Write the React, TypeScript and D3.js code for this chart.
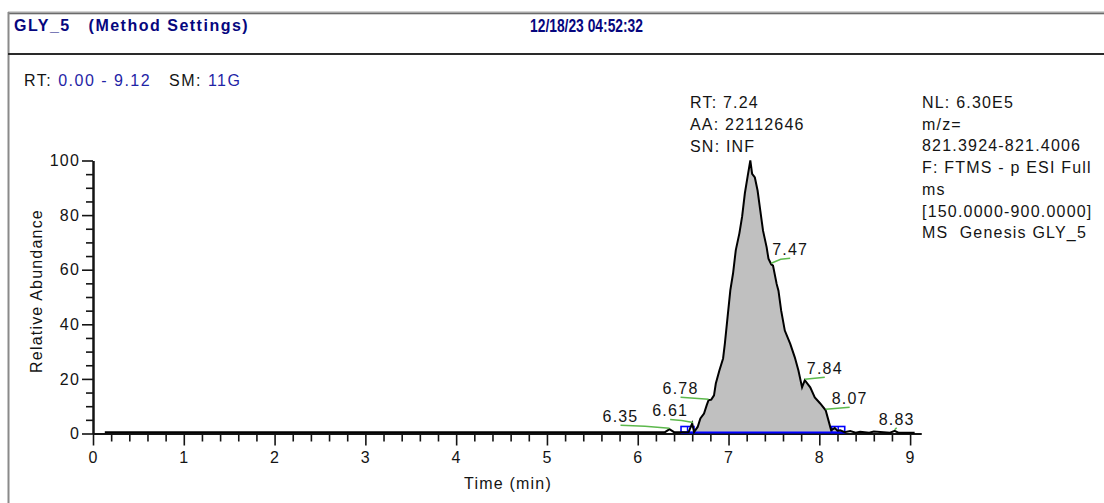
import React, { useEffect, useRef } from "react";
import * as d3 from "d3";

// chromatogram trace (time in min, relative abundance in %)
const times = [
  0.13, 6.3, 6.35, 6.4, 6.56, 6.6, 6.62, 6.66, 6.69, 6.73, 6.76, 6.78, 6.81, 6.84,
  6.86, 6.9, 6.94, 6.96, 6.99, 7.02, 7.05, 7.08, 7.12, 7.15, 7.18, 7.21, 7.24, 7.26,
  7.29, 7.32, 7.35, 7.38, 7.42, 7.44, 7.47, 7.49, 7.53, 7.55, 7.58, 7.62, 7.68, 7.73,
  7.77, 7.81, 7.84, 7.9, 7.95, 8.01, 8.07, 8.1, 8.13, 8.17, 8.2, 8.23, 8.28, 8.34,
  8.4, 8.45, 8.55, 8.6, 8.78, 8.83, 8.87, 9.05,
];
const abundance = [
  0.5, 0.5, 1.6, 0.5, 0.5, 3.7, 0.5, 2.4, 5.5, 7.3, 10.4, 12.2, 12.4, 14.0,
  18.3, 23.2, 27.5, 33.0, 42.8, 52.5, 58.7, 67.2, 73.4, 79.5, 88.0, 94.1, 100, 95.1,
  93.8, 89.0, 81.6, 74.3, 68.2, 64.0, 62.0, 61.5, 54.8, 52.3, 45.0, 37.7, 32.8, 27.9,
  23.1, 16.9, 19.5, 16.9, 13.2, 11.0, 8.5, 4.9, 1.2, 2.0, 1.0, 1.2, 0.5, 0.9,
  0.3, 0.6, 0.3, 0.7, 0.3, 1.0, 0.3, 0.3,
];

// labelled apexes
const labelTimes = [6.35, 6.61, 6.78, 7.47, 7.84, 8.07, 8.83];
const labelValues = [1.6, 3.7, 12.2, 62.0, 19.5, 8.5, 1.0];

// integration window of the main peak
const peakStart = 6.62;
const peakEnd = 8.28;

const timeRange = [0, 9.12];
const xTicks = [0, 1, 2, 3, 4, 5, 6, 7, 8, 9];
const yTicks = [0, 20, 40, 60, 80, 100];

const headerTitle = "GLY_5   (Method Settings)";
const headerDate = "12/18/23 04:52:32";
const rangeText = ["RT: ", "0.00 - 9.12", "   SM: ", "11G"];
const peakInfo = ["RT: 7.24", "AA: 22112646", "SN: INF"];
const scanInfo = [
  "NL: 6.30E5",
  "m/z=",
  "821.3924-821.4006",
  "F: FTMS - p ESI Full",
  "ms",
  "[150.0000-900.0000]",
  "MS  Genesis GLY_5",
];

const FONT = "'Liberation Sans', Arial, sans-serif";
const INK = "#141414";
const BLUE = "#1f24a6";

// where each apex label sits relative to its point [dx, dy]
const LABEL_OFFSETS = [
  [-49, -6], [-23, -6], [-28, -5], [19, -8], [20, -5], [24, -5], [2, -5],
];

export default function App() {
  const svgRef = useRef<SVGSVGElement>(null);

  useEffect(() => {
    const svg = d3.select(svgRef.current);
    svg.selectAll("*").remove();

    const x = d3.scaleLinear().domain(timeRange).range([93, 921]);
    const y = d3.scaleLinear().domain([0, 100]).range([433.5, 160.5]);
    const pts = times.map((t, i) => [t, abundance[i]] as [number, number]);

    // window frame
    svg.append("rect").attr("width", 1104).attr("height", 503).attr("fill", "#fff");
    svg.append("line").attr("x1", 8).attr("x2", 1104).attr("y1", 13).attr("y2", 13)
      .attr("stroke", "#a8a8a8").attr("stroke-width", 3);
    svg.append("line").attr("x1", 8).attr("x2", 1104).attr("y1", 13.5).attr("y2", 13.5)
      .attr("stroke", "#6a6a6a").attr("stroke-width", 1);
    svg.append("line").attr("x1", 8.5).attr("x2", 8.5).attr("y1", 12).attr("y2", 503)
      .attr("stroke", "#8a8a8a").attr("stroke-width", 2);
    svg.append("line").attr("x1", 8).attr("x2", 1104).attr("y1", 54).attr("y2", 54)
      .attr("stroke", "#2a2a2a").attr("stroke-width", 2);

    // header
    svg.append("text").attr("x", 14).attr("y", 31).attr("xml:space", "preserve")
      .style("white-space", "pre")
      .attr("font-family", FONT).attr("font-size", 16).attr("font-weight", "bold")
      .attr("letter-spacing", 1.5).attr("fill", "#06067e").text(headerTitle);
    svg.append("text").attr("x", 530).attr("y", 32)
      .attr("font-family", FONT).attr("font-size", 17.5).attr("font-weight", "bold")
      .attr("textLength", 113).attr("lengthAdjust", "spacingAndGlyphs")
      .attr("fill", "#06067e").text(headerDate);

    const txt = (sx: number, sy: number) =>
      svg.append("text").attr("x", sx).attr("y", sy)
        .attr("font-family", FONT).attr("font-size", 16)
        .attr("letter-spacing", 1.2).attr("fill", INK)
        .style("white-space", "pre");

    const rt = txt(24, 86).attr("letter-spacing", 1.5);
    rangeText.forEach((s, i) =>
      rt.append("tspan").attr("fill", i % 2 ? BLUE : INK).text(s));

    peakInfo.forEach((s, i) => txt(690, 108 + i * 21.8).text(s));
    scanInfo.forEach((s, i) => txt(922, 108 + i * 21.7).text(s));

    // integrated area
    const inPeak = pts.filter(d => d[0] >= peakStart && d[0] <= peakEnd);
    svg.append("path").datum(inPeak)
      .attr("fill", "#c0c0c0")
      .attr("d", d3.area<[number, number]>()
        .x(d => x(d[0])).y0(y(0)).y1(d => y(d[1]))(inPeak) as string);

    // axes
    const xMinor = d3.range(0, 9.12, 0.2).filter(v => Math.abs(v - Math.round(v)) > 0.01);
    const yMinor = d3.range(0, 101, 5).filter(v => v % 20 !== 0);

    const styleAxis = (g: any) => {
      g.select(".domain").attr("stroke", INK).attr("stroke-width", 2);
      g.selectAll(".tick line").attr("stroke", INK).attr("stroke-width", 1.6);
      g.selectAll("text").attr("font-family", FONT).attr("font-size", 16)
        .attr("letter-spacing", 1.2).attr("fill", INK);
    };

    svg.append("g").attr("transform", `translate(0,${y(0)})`)
      .call(d3.axisBottom(x).tickValues(xMinor).tickSize(8).tickSizeOuter(0).tickFormat(() => ""))
      .call(styleAxis);
    svg.append("g").attr("transform", `translate(0,${y(0)})`)
      .call(d3.axisBottom(x).tickValues(xTicks).tickSize(12).tickSizeOuter(0).tickPadding(6)
        .tickFormat(d3.format("d")))
      .call(styleAxis);
    svg.append("g").attr("transform", `translate(${x(0)},0)`)
      .call(d3.axisLeft(y).tickValues(yMinor).tickSize(7).tickSizeOuter(0).tickFormat(() => ""))
      .call(styleAxis);
    svg.append("g").attr("transform", `translate(${x(0)},0)`)
      .call(d3.axisLeft(y).tickValues(yTicks).tickSize(11).tickSizeOuter(0).tickPadding(2)
        .tickFormat(d3.format("d")))
      .call(styleAxis);

    svg.append("text").attr("x", 508).attr("y", 489).attr("text-anchor", "middle")
      .attr("font-family", FONT).attr("font-size", 16).attr("letter-spacing", 1.2)
      .attr("fill", INK).text("Time (min)");
    svg.append("text").attr("transform", "translate(42,291) rotate(-90)")
      .attr("text-anchor", "middle")
      .attr("font-family", FONT).attr("font-size", 16).attr("letter-spacing", 1.2)
      .attr("fill", INK).text("Relative Abundance");

    // baseline of the integration + end markers
    const by = y(0) - 1;
    svg.append("line").attr("x1", x(peakStart) - 13).attr("x2", x(peakEnd))
      .attr("y1", by).attr("y2", by).attr("stroke", "#0000ff").attr("stroke-width", 2);
    [peakStart, peakEnd].forEach(t => {
      const bx = x(t) - 13;
      svg.append("rect").attr("x", bx).attr("y", by - 6).attr("width", 13).attr("height", 6)
        .attr("fill", "none").attr("stroke", "#0000ff").attr("stroke-width", 1.6);
      svg.append("line").attr("x1", bx + 6.5).attr("x2", bx + 6.5).attr("y1", by - 6).attr("y2", by)
        .attr("stroke", "#0000ff").attr("stroke-width", 1.4);
    });

    // trace
    svg.append("path").datum(pts)
      .attr("fill", "none").attr("stroke", "#000").attr("stroke-width", 2)
      .attr("d", d3.line<[number, number]>().x(d => x(d[0])).y(d => y(d[1]))(pts) as string);

    // apex labels with leaders
    labelTimes.forEach((t, i) => {
      const px = x(t);
      const py = y(labelValues[i]);
      const [dx, dy] = LABEL_OFFSETS[i];
      const lx = px + dx;
      const ly = py + dy;
      svg.append("polyline")
        .attr("points", `${px},${py - 1} ${(px + lx) / 2},${ly + 3} ${lx},${ly + 2}`)
        .attr("fill", "none").attr("stroke", "#5cb84c").attr("stroke-width", 1.5);
      svg.append("text").attr("x", lx).attr("y", ly - 1).attr("text-anchor", "middle")
        .attr("font-family", FONT).attr("font-size", 16).attr("letter-spacing", 1.2)
        .attr("fill", INK).text(t.toFixed(2));
    });
  }, []);

  return (
    <svg
      ref={svgRef}
      width={1104}
      height={503}
      style={{ position: "absolute", left: 0, top: 0, display: "block" }}
    />
  );
}
